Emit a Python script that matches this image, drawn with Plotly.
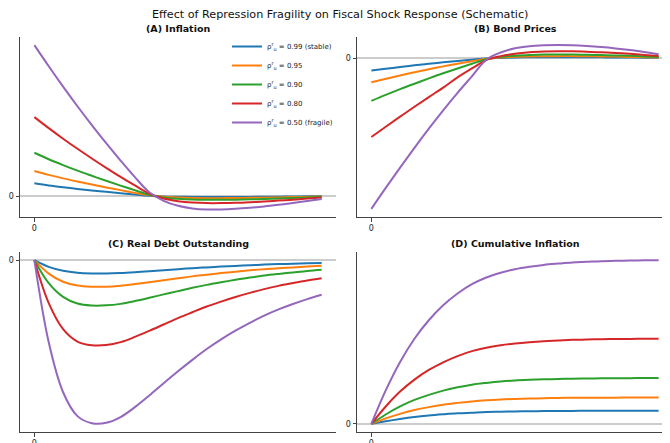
import plotly.graph_objects as go

# ---- data ----
t = [0, 2, 4, 6, 8, 10, 12, 14, 16, 18, 20, 22, 24, 26, 28, 30, 32, 34, 36, 38, 40]

series_labels = [
    "ρ<sup>r</sup><sub>u</sub> = 0.99 (stable)",
    "ρ<sup>r</sup><sub>u</sub> = 0.95",
    "ρ<sup>r</sup><sub>u</sub> = 0.90",
    "ρ<sup>r</sup><sub>u</sub> = 0.80",
    "ρ<sup>r</sup><sub>u</sub> = 0.50 (fragile)",
]
colors = ["#1f77b4", "#ff7f0e", "#2ca02c", "#d62728", "#9467bd"]

# (A) Inflation
infl_099 = [0.084, 0.070, 0.058, 0.047, 0.037, 0.028, 0.019, 0.010, 0.002, -0.003, -0.005, -0.006, -0.007, -0.007, -0.006, -0.006, -0.005, -0.004, -0.003, -0.002, -0.001]
infl_095 = [0.166, 0.140, 0.117, 0.096, 0.076, 0.057, 0.039, 0.021, 0.005, -0.005, -0.010, -0.013, -0.014, -0.014, -0.013, -0.012, -0.011, -0.009, -0.007, -0.005, -0.003]
infl_090 = [0.287, 0.244, 0.205, 0.168, 0.134, 0.101, 0.069, 0.038, 0.009, -0.009, -0.018, -0.023, -0.025, -0.025, -0.024, -0.022, -0.019, -0.016, -0.013, -0.009, -0.005]
infl_080 = [0.523, 0.450, 0.380, 0.313, 0.249, 0.187, 0.127, 0.070, 0.016, -0.017, -0.034, -0.043, -0.047, -0.047, -0.045, -0.041, -0.036, -0.030, -0.024, -0.017, -0.010]
infl_050 = [1.000, 0.860, 0.725, 0.595, 0.470, 0.350, 0.235, 0.125, 0.025, -0.032, -0.065, -0.082, -0.089, -0.089, -0.085, -0.078, -0.069, -0.058, -0.046, -0.033, -0.020]

# (B) Bond Prices
bond_099 = [-0.082, -0.070, -0.058, -0.047, -0.037, -0.027, -0.018, -0.010, -0.002, 0.002, 0.005, 0.006, 0.007, 0.007, 0.007, 0.007, 0.006, 0.005, 0.005, 0.004, 0.003]
bond_095 = [-0.160, -0.136, -0.114, -0.093, -0.073, -0.054, -0.036, -0.020, -0.004, 0.005, 0.010, 0.012, 0.013, 0.014, 0.014, 0.013, 0.012, 0.011, 0.009, 0.007, 0.005]
bond_090 = [-0.283, -0.243, -0.205, -0.169, -0.134, -0.100, -0.068, -0.037, -0.007, 0.009, 0.017, 0.021, 0.024, 0.025, 0.025, 0.023, 0.021, 0.019, 0.016, 0.012, 0.008]
bond_080 = [-0.523, -0.455, -0.388, -0.322, -0.258, -0.195, -0.127, -0.068, -0.012, 0.014, 0.030, 0.040, 0.045, 0.047, 0.046, 0.043, 0.040, 0.035, 0.029, 0.022, 0.015]
bond_050 = [-1.000, -0.861, -0.726, -0.595, -0.468, -0.346, -0.230, -0.120, -0.010, 0.038, 0.066, 0.080, 0.086, 0.088, 0.086, 0.081, 0.074, 0.065, 0.054, 0.041, 0.027]

# (C) Real Debt Outstanding
debt_099 = [0, -0.041, -0.065, -0.077, -0.081, -0.081, -0.078, -0.073, -0.067, -0.061, -0.055, -0.049, -0.044, -0.039, -0.035, -0.031, -0.027, -0.024, -0.022, -0.019, -0.017]
debt_095 = [0, -0.082, -0.132, -0.155, -0.162, -0.162, -0.156, -0.146, -0.135, -0.123, -0.111, -0.099, -0.089, -0.079, -0.070, -0.062, -0.055, -0.049, -0.044, -0.039, -0.034]
debt_090 = [0, -0.140, -0.224, -0.265, -0.277, -0.276, -0.267, -0.250, -0.230, -0.209, -0.189, -0.169, -0.151, -0.135, -0.120, -0.106, -0.094, -0.084, -0.075, -0.066, -0.059]
debt_080 = [0, -0.262, -0.421, -0.497, -0.520, -0.519, -0.501, -0.469, -0.432, -0.393, -0.354, -0.318, -0.283, -0.253, -0.225, -0.200, -0.177, -0.157, -0.140, -0.124, -0.110]
debt_050 = [0, -0.502, -0.807, -0.953, -0.996, -0.994, -0.959, -0.898, -0.827, -0.752, -0.679, -0.609, -0.543, -0.484, -0.431, -0.383, -0.339, -0.301, -0.268, -0.238, -0.211]

# (D) Cumulative Inflation
cum_099 = [0, 0.016, 0.030, 0.042, 0.051, 0.058, 0.064, 0.068, 0.072, 0.074, 0.076, 0.077, 0.078, 0.079, 0.079, 0.080, 0.080, 0.080, 0.080, 0.080, 0.080]
cum_095 = [0, 0.033, 0.061, 0.084, 0.102, 0.117, 0.128, 0.137, 0.144, 0.149, 0.152, 0.154, 0.156, 0.158, 0.159, 0.159, 0.160, 0.160, 0.161, 0.161, 0.161]
cum_090 = [0, 0.057, 0.106, 0.146, 0.177, 0.203, 0.223, 0.239, 0.250, 0.259, 0.265, 0.269, 0.272, 0.274, 0.276, 0.277, 0.278, 0.279, 0.279, 0.280, 0.280]
cum_080 = [0, 0.106, 0.197, 0.270, 0.329, 0.376, 0.414, 0.444, 0.465, 0.480, 0.491, 0.499, 0.505, 0.509, 0.513, 0.515, 0.517, 0.518, 0.519, 0.520, 0.520]
cum_050 = [0, 0.204, 0.378, 0.520, 0.633, 0.724, 0.796, 0.853, 0.894, 0.923, 0.945, 0.960, 0.971, 0.979, 0.986, 0.990, 0.994, 0.996, 0.998, 0.999, 1.000]

panel_titles = ["(A) Inflation", "(B) Bond Prices", "(C) Real Debt Outstanding", "(D) Cumulative Inflation"]
suptitle = "Effect of Repression Fragility on Fiscal Shock Response (Schematic)"
x_ticks = [0]
y_ticks = [0]

panels = [
    [infl_099, infl_095, infl_090, infl_080, infl_050],
    [bond_099, bond_095, bond_090, bond_080, bond_050],
    [debt_099, debt_095, debt_090, debt_080, debt_050],
    [cum_099, cum_095, cum_090, cum_080, cum_050],
]

# ---- layout geometry (pixel boxes; page body adds an 8px offset) ----
W, H = 670, 443
OFF = 8
boxes = [  # left, top, right, bottom in window pixels
    (20, 37, 336, 217),
    (357, 37, 673, 217),
    (20, 252, 336, 432),
    (357, 252, 673, 432),
]
x_ranges = [[-2, 42]] * 4
y_ranges = [[-0.139, 1.054], [-1.054, 0.141], [-1.05, 0.05], [-0.05, 1.05]]


def px_x(v):
    return (v - OFF) / W


def px_y(v):
    return 1 - (v - OFF) / H


font_family = "DejaVu Sans"
fig = go.Figure()
for p, series in enumerate(panels):
    ax = "" if p == 0 else str(p + 1)
    for i, ys in enumerate(series):
        fig.add_trace(go.Scatter(
            x=t, y=ys, mode="lines",
            line=dict(color=colors[i], width=2, shape="spline", smoothing=1.0),
            name=series_labels[i], showlegend=(p == 0),
            xaxis="x" + ax, yaxis="y" + ax,
        ))

for p in range(4):
    ax = "" if p == 0 else str(p + 1)
    l, tp, r, b = boxes[p]
    xd = [px_x(l), min(px_x(r), 1.0)]
    yd = [px_y(b), px_y(tp)]
    fig.layout["xaxis" + ax] = dict(
        domain=xd, range=x_ranges[p], anchor="y" + ax,
        tickvals=x_ticks, ticktext=["0"], ticks="outside", ticklen=3.5, tickwidth=1,
        tickcolor="#444", showline=True, linecolor="#444", linewidth=1,
        showgrid=False, zeroline=False, tickfont=dict(size=8, color="#222"),
    )
    fig.layout["yaxis" + ax] = dict(
        domain=yd, range=y_ranges[p], anchor="x" + ax,
        tickvals=y_ticks, ticktext=["0"], ticks="outside", ticklen=3.5, tickwidth=1,
        tickcolor="#444", showline=True, linecolor="#444", linewidth=1,
        showgrid=False, zeroline=True, zerolinecolor="#cccccc", zerolinewidth=1.5,
        tickfont=dict(size=8, color="#222"),
    )
    fig.add_annotation(
        text="<b>" + panel_titles[p] + "</b>", xref="paper", yref="paper",
        x=(px_x(l) + px_x(r)) / 2, y=px_y(tp - 8), yanchor="middle", xanchor="center",
        showarrow=False, font=dict(size=9.5, family=font_family, color="#111"),
    )

fig.add_annotation(
    text=suptitle, xref="paper", yref="paper", x=px_x(340), y=px_y(14),
    xanchor="center", yanchor="middle", showarrow=False,
    font=dict(size=11.2, family=font_family, color="#111"),
)

fig.update_layout(
    width=W, height=H,
    margin=dict(l=0, r=0, t=0, b=0),
    paper_bgcolor="white", plot_bgcolor="white",
    font=dict(family=font_family, color="#222"),
    legend=dict(x=px_x(338), xanchor="right", y=px_y(32), yanchor="top",
                bgcolor="rgba(255,255,255,0)", font=dict(size=7, family=font_family),
                itemwidth=30, tracegroupgap=0),
)

fig.write_html("out.html")
